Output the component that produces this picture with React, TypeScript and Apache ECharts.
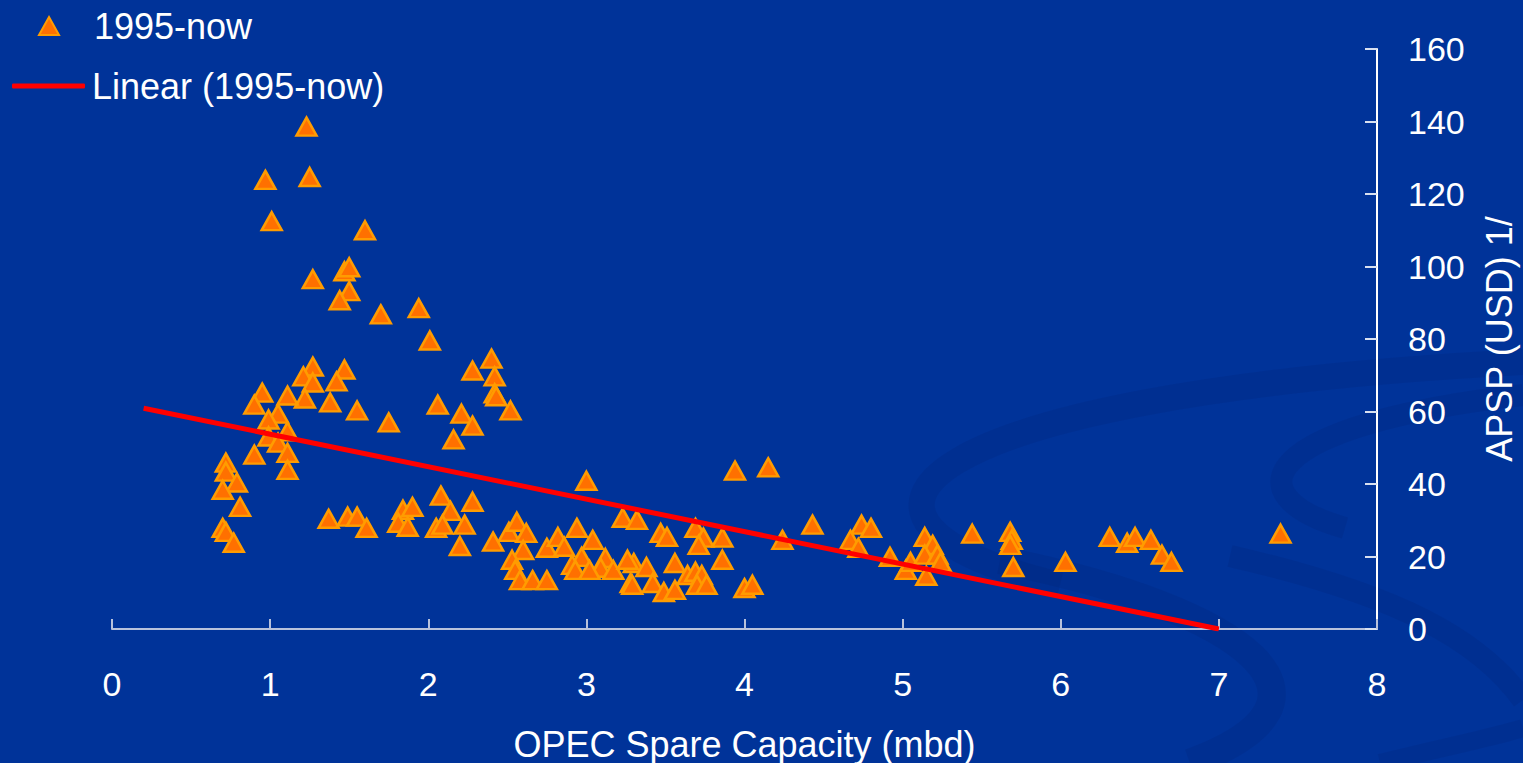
import React, { useEffect, useRef } from "react";
import * as echarts from "echarts";

// Scatter points (OPEC spare capacity, mbd) -> APSP (USD)
const spareCapacity: number[] = [
  1.23, 0.97, 1.25, 1.01, 1.60, 1.27, 1.47, 1.50, 1.50, 1.44, 1.70, 1.94, 2.01, 2.40, 2.28, 2.42, 2.42, 2.43, 2.52, 2.06,
  2.21, 2.28, 2.16, 1.75, 1.55, 1.47, 1.27, 1.21, 1.27, 1.42, 1.22, 1.38, 1.11, 0.95, 0.90, 1.05, 0.99, 1.11, 0.99, 1.05,
  0.90, 1.11, 1.11,
  0.72, 0.72, 0.79, 0.70, 0.81, 0.70, 0.72, 0.77,
  1.37, 1.49, 1.55, 1.61, 1.84, 1.90, 1.81, 1.87, 2.08, 2.14, 2.05, 2.09, 2.23, 2.20, 2.28, 2.41, 2.51, 2.56, 2.62, 2.60,
  2.53, 2.55, 2.58, 2.66, 2.75, 2.75, 2.82, 2.86, 2.94, 3.04, 2.97, 3.12, 3.23, 3.32, 3.00, 3.30, 3.28, 2.91, 3.09, 3.17,
  2.93, 3.02, 3.47, 3.51, 3.69, 3.74, 3.71, 3.86, 4.24, 4.43, 3.86, 3.56, 3.26, 3.38, 3.29, 3.42, 3.49, 3.56, 3.64, 3.69,
  3.73, 3.70, 3.76, 4.00, 4.05, 3.94, 4.15,
  4.74, 4.80, 4.67, 4.72, 4.92, 5.02, 5.05, 5.14, 5.19, 5.14, 5.22, 5.24, 5.15, 5.44, 5.68, 5.69, 5.68, 5.70, 6.03, 6.31,
  6.42, 6.47, 6.57, 6.64, 6.70, 7.39,
];
const apsp: number[] = [
  138.6, 123.9, 124.7, 112.5, 110.0, 96.5, 98.7, 99.8, 93.2, 90.7, 86.8, 88.5, 79.6, 74.6, 71.3, 69.7, 65.0, 64.2, 60.3, 61.9,
  59.4, 56.1, 52.3, 57.0, 60.3, 71.6, 72.4, 69.7, 68.0, 68.3, 63.6, 62.5, 64.4, 65.2, 61.9, 59.4, 57.8, 54.5, 53.1, 51.4,
  48.1, 48.6, 43.9,
  45.9, 43.4, 40.4, 38.4, 33.7, 27.9, 26.8, 23.8,
  30.4, 31.0, 31.0, 27.9, 32.9, 33.7, 29.3, 28.2, 36.8, 32.6, 27.9, 28.8, 28.8, 22.9, 35.1, 24.1, 26.8, 29.6, 26.5, 21.8,
  19.1, 16.3, 13.5, 13.5, 13.5, 22.4, 25.4, 22.7, 27.9, 24.6, 19.9, 19.6, 30.7, 30.1, 40.9, 18.2, 12.7, 17.7, 16.9, 16.3,
  16.3, 16.3, 26.5, 25.4, 27.9, 25.2, 23.2, 25.2, 24.6, 28.8, 19.1, 18.2, 19.1, 17.1, 12.2, 12.7, 10.2, 10.8, 14.9, 15.8,
  14.9, 12.2, 12.2, 11.3, 12.2, 43.7, 44.6,
  28.8, 27.9, 24.6, 22.4, 19.9, 16.3, 18.5, 25.4, 23.2, 20.5, 20.5, 18.5, 14.7, 26.3, 26.8, 24.6, 23.2, 17.1, 18.5, 25.4,
  23.8, 25.4, 24.6, 20.5, 18.5, 26.3,
];

// Linear trend line end points
const trendX: number[] = [0.2, 7.0];
const trendY: number[] = [60.9, 0];

const xTicks: string[] = ["0", "1", "2", "3", "4", "5", "6", "7", "8"];
const yTicks: string[] = ["0", "20", "40", "60", "80", "100", "120", "140", "160"];

const SCATTER_NAME = "1995-now";
const TREND_NAME = "Linear (1995-now)";

const FONT = "'Liberation Sans', Arial, sans-serif";
const swirl = "rgba(0, 28, 105, 0.16)";

export default function App() {
  const ref = useRef<HTMLDivElement>(null);

  useEffect(() => {
    if (!ref.current) return;
    const chart = echarts.init(ref.current, null, { renderer: "svg" });
    const scatterData = spareCapacity.map((x, i) => [x, apsp[i]]);
    const trendData = trendX.map((x, i) => [x, trendY[i]]);

    chart.setOption({
      animation: false,
      backgroundColor: "#003399",
      textStyle: { fontFamily: FONT },
      graphic: [
        { type: "bezierCurve", z: -1, shape: { x1: 1523, y1: 362, cpx1: 900, cpy1: 395, cpx2: 790, cpy2: 520, x2: 1060, y2: 585 }, style: { stroke: swirl, lineWidth: 26, fill: null } },
        { type: "bezierCurve", z: -1, shape: { x1: 1523, y1: 395, cpx1: 1260, cpy1: 425, cpx2: 1230, cpy2: 495, x2: 1345, y2: 528 }, style: { stroke: swirl, lineWidth: 22, fill: null } },
        { type: "bezierCurve", z: -1, shape: { x1: 1000, y1: 560, cpx1: 1250, cpy1: 610, cpx2: 1360, cpy2: 700, x2: 1190, y2: 763 }, style: { stroke: swirl, lineWidth: 28, fill: null } },
        { type: "bezierCurve", z: -1, shape: { x1: 1230, y1: 556, cpx1: 1400, cpy1: 595, cpx2: 1480, cpy2: 640, x2: 1523, y2: 700 }, style: { stroke: swirl, lineWidth: 22, fill: null } },
        { type: "bezierCurve", z: -1, shape: { x1: 1380, y1: 763, cpx1: 1440, cpy1: 748, cpx2: 1490, cpy2: 738, x2: 1523, y2: 728 }, style: { stroke: swirl, lineWidth: 18, fill: null } },
      ],
      legend: [
        {
          data: [{ name: SCATTER_NAME, icon: "triangle" }],
          left: 38,
          top: 8,
          padding: 0,
          itemWidth: 20,
          itemHeight: 18,
          textStyle: { color: "#ffffff", fontSize: 36, fontFamily: FONT, padding: [0, 0, 0, 30] },
        },
        {
          data: [{ name: TREND_NAME, icon: "roundRect", itemStyle: { color: "#ff0000" } }],
          left: 12,
          top: 68,
          padding: 0,
          itemWidth: 73,
          itemHeight: 5,
          textStyle: { color: "#ffffff", fontSize: 36, fontFamily: FONT, padding: [0, 0, 0, 2] },
        },
      ],
      grid: { left: 112, right: 146, top: 49, bottom: 134, containLabel: false, outerBoundsMode: "none" },
      xAxis: {
        type: "value",
        min: 0,
        max: 8,
        interval: 1,
        name: "OPEC Spare Capacity (mbd)",
        nameLocation: "middle",
        nameGap: 97,
        nameTextStyle: { color: "#ffffff", fontSize: 36, fontFamily: FONT },
        axisLine: { show: true, onZero: false, lineStyle: { color: "#b8c2dc", width: 2 } },
        axisTick: { show: true, inside: true, length: 10, lineStyle: { color: "#b8c2dc", width: 2 } },
        axisLabel: {
          color: "#ffffff",
          fontSize: 34,
          fontFamily: FONT,
          margin: 38,
          formatter: (v: number) => xTicks[Math.round(v)] ?? String(v),
        },
        splitLine: { show: false },
      },
      yAxis: {
        type: "value",
        position: "right",
        min: 0,
        max: 160,
        interval: 20,
        name: "APSP (USD) 1/",
        nameLocation: "middle",
        nameRotate: 90,
        nameGap: 104,
        nameTextStyle: { color: "#ffffff", fontSize: 36, fontFamily: FONT },
        axisLine: { show: true, onZero: false, lineStyle: { color: "#ffffff", width: 2 } },
        axisTick: { show: true, inside: true, length: 12, lineStyle: { color: "#d8e0f0", width: 2 } },
        axisLabel: {
          color: "#ffffff",
          fontSize: 34,
          fontFamily: FONT,
          margin: 31,
          formatter: (v: number) => yTicks[Math.round(v / 20)] ?? String(v),
        },
        splitLine: { show: false },
      },
      series: [
        {
          name: SCATTER_NAME,
          type: "scatter",
          symbol: "triangle",
          symbolSize: [20, 18],
          data: scatterData,
          itemStyle: { color: "#ff7000", borderColor: "#ff9c00", borderWidth: 2.5, opacity: 1 },
          z: 3,
        },
        {
          name: TREND_NAME,
          type: "line",
          data: trendData,
          showSymbol: false,
          symbol: "none",
          lineStyle: { color: "#ff0000", width: 5 },
          itemStyle: { color: "#ff0000" },
          z: 4,
        },
      ],
    });

    return () => chart.dispose();
  }, []);

  return (
    <div
      ref={ref}
      style={{ position: "fixed", left: 0, top: 0, width: 1523, height: 763 }}
    />
  );
}
